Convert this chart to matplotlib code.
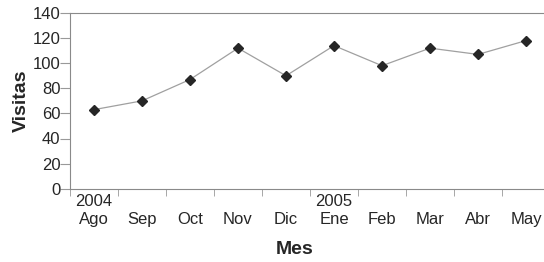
import matplotlib.pyplot as plt
import numpy as np

# datos
meses = ["2004\nAgo", "\nSep", "\nOct", "\nNov", "\nDic", "2005\nEne", "\nFeb", "\nMar", "\nAbr", "\nMay"]
visitas = [63, 70, 87, 112, 90, 114, 98, 112, 107, 118]
yticks = [0, 20, 40, 60, 80, 100, 120, 140]

plt.rcParams['font.family'] = ['Liberation Sans', 'DejaVu Sans']

fig = plt.figure(figsize=(5.44, 2.62), dpi=100)
ax = fig.add_axes([70 / 544, 1 - 188.7 / 262, 480 / 544, 175.7 / 262])

x = np.arange(len(meses))
ax.plot(x, visitas, color="#a0a0a0", lw=0.9, marker="D", ms=5,
        mfc="#262626", mec="#262626")

ax.set_xlim(-0.5, len(meses) - 0.5)
ax.set_ylim(0, 140)
ax.set_yticks(yticks)
ax.set_xticks(x)
ax.set_xticklabels(meses, linespacing=1.2)
ax.set_xticks(np.arange(len(meses)) - 0.5, minor=True)
ax.tick_params(axis="x", which="major", length=0, labelsize=12, pad=4, colors="#262626")
ax.tick_params(axis="x", which="minor", length=5, color="#999999")
ax.tick_params(axis="y", length=7, color="#999999", labelsize=12, pad=0, labelcolor="#262626")

for s in ["left", "bottom", "top"]:
    ax.spines[s].set_color("#8a8a8a")
ax.spines["right"].set_visible(False)

ax.set_ylabel("Visitas", fontsize=14, fontweight="bold", labelpad=2, color="#262626")
ax.set_xlabel("Mes", fontsize=14, fontweight="bold", labelpad=0, color="#262626")
ax.xaxis.set_label_coords((295 - 70) / 480, -0.30)

fig.savefig("out.png", dpi=100)
